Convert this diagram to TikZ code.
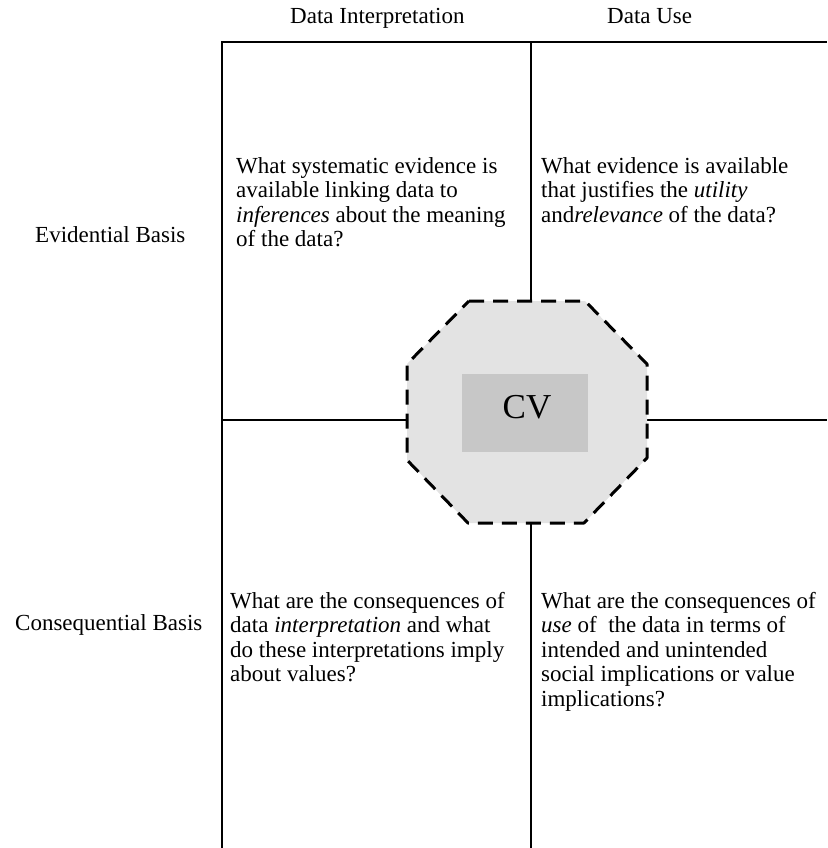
\documentclass[tikz,border=0pt]{standalone}
\usepackage{fontspec}
\setmainfont{Liberation Serif}
\begin{document}
\begin{tikzpicture}[x=1pt,y=-1pt,
  frame/.style={line width=1.2pt, black},
  celltext/.style={anchor=north west, inner sep=0pt, align=left, font=\fontsize{23}{24.5}\selectfont},
  rowlabel/.style={anchor=base west, inner sep=0pt, font=\fontsize{23}{24.5}\selectfont},
  octfill/.style={fill=black!11, draw=none},
  corefill/.style={fill=black!22, draw=none},
  octborder/.style={draw=black, line width=3pt, dash pattern=on 15pt off 9pt, line join=round}]
\useasboundingbox (0,0) rectangle (827,848);
% frame coordinates
\coordinate (tl) at (222,42);
\coordinate (tr) at (827,42);
\coordinate (bl) at (222,848);
\coordinate (mt) at (531,42);
\coordinate (mb) at (531,848);
\coordinate (ml) at (222,420);
\coordinate (mr) at (827,420);
% octagon coordinates
\coordinate (o1) at (469,301);
\coordinate (o2) at (585,301);
\coordinate (o3) at (647,364);
\coordinate (o4) at (647,458);
\coordinate (o5) at (584,523);
\coordinate (o6) at (468,523);
\coordinate (o7) at (407,460);
\coordinate (o8) at (407,364);
\coordinate (otop) at (531,301);
\coordinate (obot) at (531,523);
\coordinate (oleft) at (407,420);
\coordinate (oright) at (647,420);
% frame lines
\draw[frame] (bl) -- (tl) -- (tr);
\draw[frame] (mt) -- (otop);
\draw[frame] (obot) -- (mb);
\draw[frame] (ml) -- (oleft);
\draw[frame] (oright) -- (mr);
% octagon
\fill[octfill] (o1) -- (o2) -- (o3) -- (o4) -- (o5) -- (o6) -- (o7) -- (o8) -- cycle;
\fill[corefill] (462,374) rectangle (588,452);
\draw[octborder] (o1) -- (o2) -- (o3) -- (o4) -- (o5) -- (o6) -- (o7) -- (o8) -- cycle;
\node[anchor=base, inner sep=0pt, font=\fontsize{35}{37}\selectfont] (cv) at (527,418) {CV};
% headers
\node[rowlabel] (hdi) at (290,24) {Data Interpretation};
\node[rowlabel] (hdu) at (607,24) {Data Use};
% row labels
\node[rowlabel] (evb) at (35,242) {Evidential Basis};
\node[rowlabel] (conb) at (15,630) {Consequential Basis};
% cells
\node[celltext] (c11) at (236,157) {What systematic evidence is\\available linking data to\\\textit{inferences} about the meaning\\of the data?};
\node[celltext] (c12) at (541,157) {What evidence is available\\that justifies the \textit{utility}\\and\textit{relevance} of the data?};
\node[celltext] (c21) at (230,592) {What are the consequences of\\data \textit{interpretation} and what\\do these interpretations imply\\about values?};
\node[celltext] (c22) at (541,592) {What are the consequences of\\\textit{use} of~ the data in terms of\\intended and unintended\\social implications or value\\implications?};
\end{tikzpicture}
\end{document}
